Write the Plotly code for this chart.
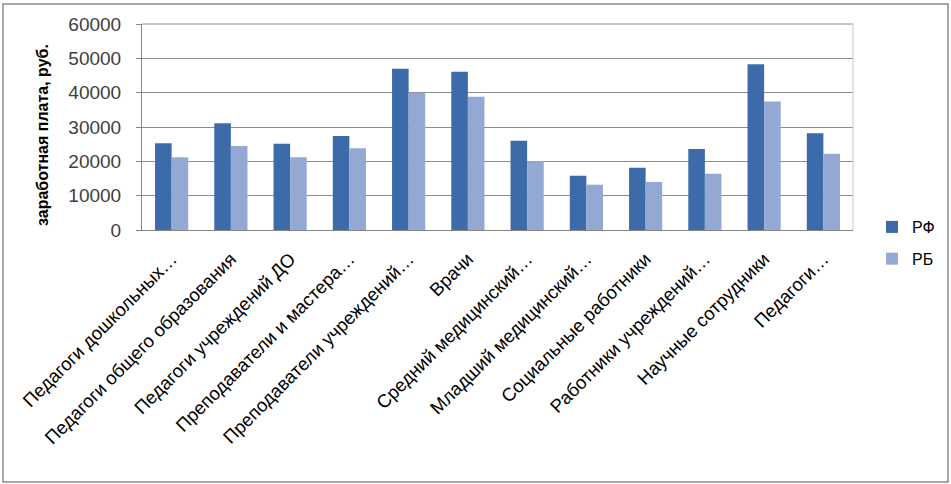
import plotly.graph_objects as go

categories = [
    "Педагоги дошкольных…",
    "Педагоги общего образования",
    "Педагоги учреждений ДО",
    "Преподаватели и мастера…",
    "Преподаватели учреждений…",
    "Врачи",
    "Средний медицинский…",
    "Младший медицинский…",
    "Социальные работники",
    "Работники учреждений…",
    "Научные сотрудники",
    "Педагоги…",
]
rf_values = [25300, 31100, 25100, 27400, 47000, 46100, 26000, 15800, 18100, 23600, 48300, 28200]
rb_values = [21200, 24500, 21200, 23800, 40000, 38800, 20000, 13200, 14000, 16400, 37400, 22200]
y_ticks = [0, 10000, 20000, 30000, 40000, 50000, 60000]

FONT = "Liberation Sans, Arial, sans-serif"

fig = go.Figure()
fig.add_trace(go.Bar(x=categories, y=rf_values, name="РФ", marker_color="#3D6BA9",
                     marker_line_width=0, legendgroup="a"))
fig.add_trace(go.Bar(x=categories, y=rb_values, name="РБ", marker_color="#93A9D3",
                     marker_line_width=0, legendgroup="b"))

W, H = 951, 484
L, R, T, B = 142, 98, 24, 254
PW, PH = W - L - R, H - T - B

fig.update_layout(
    width=W, height=H,
    margin=dict(l=L, r=R, t=T, b=B, autoexpand=False),
    paper_bgcolor="white", plot_bgcolor="white",
    barmode="group", bargap=0.44, bargroupgap=0,
    font=dict(family=FONT, size=15, color="#000000"),
    showlegend=True,
    legend=dict(x=(872 - L) / PW, y=(H - B - 243) / PH, xanchor="left", yanchor="middle",
                font=dict(size=16, color="#000000"), tracegroupgap=8,
                itemwidth=30, bgcolor="rgba(0,0,0,0)"),
    xaxis=dict(tickangle=-45, showline=True, linecolor="#868686", linewidth=1,
               ticks="", tickfont=dict(size=18.5, color="#000000"), showgrid=False,
               ticklabelstandoff=10, automargin=False),
    yaxis=dict(range=[0, 60000], tickvals=y_ticks, ticktext=[str(v) for v in y_ticks],
               showgrid=True, gridcolor="#8c8c8c", gridwidth=1,
               showline=True, linecolor="#868686", linewidth=1,
               ticks="outside", ticklen=5, tickcolor="#868686",
               ticklabelstandoff=11, automargin=False,
               tickfont=dict(size=19, color="#404040"), zeroline=False),
    shapes=[
        dict(type="rect", xref="paper", yref="paper",
             x0=(3 - L) / PW, x1=(948 - L) / PW,
             y0=(H - B - 482) / PH, y1=(H - B - 4) / PH,
             line=dict(color="#8a8a8a", width=1.5), fillcolor="rgba(0,0,0,0)", layer="below"),
        dict(type="line", xref="paper", yref="paper", x0=0, x1=1, y0=1, y1=1,
             line=dict(color="#8c8c8c", width=1)),
        dict(type="line", xref="paper", yref="paper", x0=1, x1=1, y0=0, y1=1,
             line=dict(color="#c8c8c8", width=1)),
    ],
    annotations=[
        dict(text="<b>заработная плата, руб.</b>", xref="paper", yref="paper",
             x=(42 - L) / PW, y=(H - B - 135) / PH,
             xanchor="center", yanchor="middle", textangle=-90, showarrow=False,
             font=dict(size=16, color="#000000", family=FONT)),
    ],
)

fig.write_html("out.html", config={"displayModeBar": False},
               post_script="document.body.style.margin='0';document.body.style.overflow='hidden';")
